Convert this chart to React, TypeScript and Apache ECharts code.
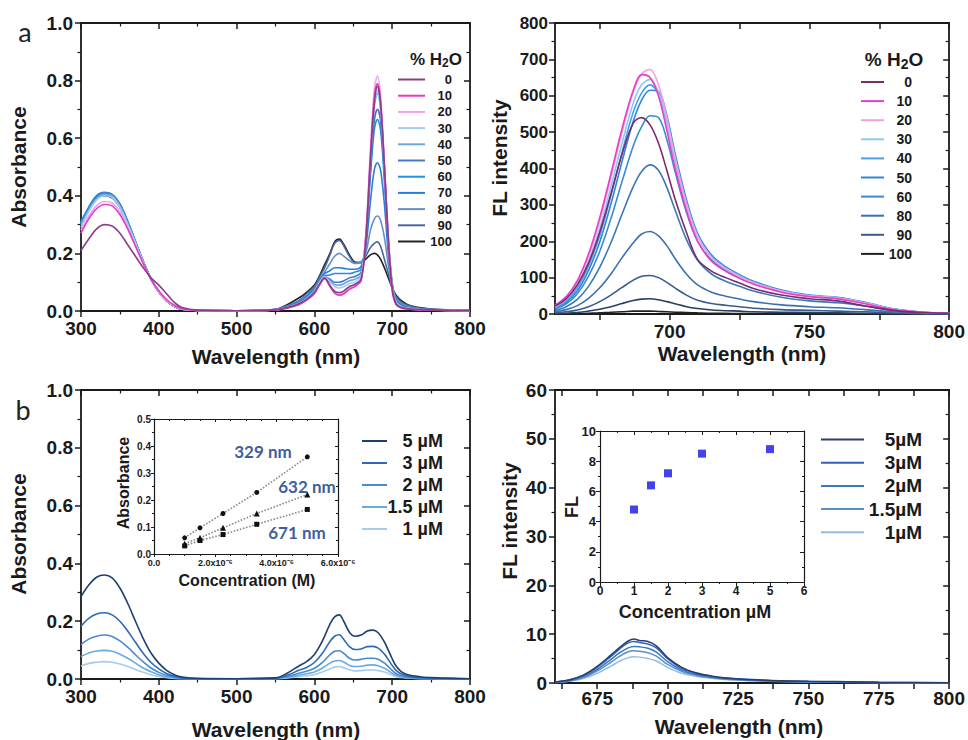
import React, { useEffect, useRef } from "react";
import * as echarts from "echarts";

// ---------- Panel a (left): absorbance vs water fraction ----------
const WL_A = [300,310,320,330,340,350,360,370,380,390,400,410,420,430,450,500,550,565,580,590,600,607,613,620,626,632,638,645,652,660,666,672,677,681,685,690,695,700,705,712,720,735,750,775,800];
const WATER_A = ["0","10","20","30","40","50","60","70","80","90","100"];
const COLORS_A = ["#8a3f86","#e23cc6","#f2a2e6","#9fd0f2","#68a6e2","#4a78c0","#1f8fe8","#2a7fd8","#6a8fc8","#4a66a0","#222222"];
const ABS_A: number[][] = [
  [0.21,0.25,0.285,0.30,0.295,0.27,0.23,0.19,0.15,0.115,0.09,0.06,0.03,0.012,0.003,0.001,0.004,0.012,0.025,0.04,0.065,0.095,0.115,0.088,0.068,0.064,0.07,0.085,0.092,0.11,0.24,0.52,0.72,0.78,0.72,0.5,0.25,0.08,0.025,0.012,0.008,0.005,0.004,0.002,0.001],
  [0.27,0.32,0.355,0.37,0.365,0.335,0.285,0.225,0.165,0.11,0.07,0.04,0.02,0.008,0.002,0.001,0.004,0.01,0.022,0.038,0.06,0.092,0.112,0.085,0.062,0.055,0.06,0.075,0.085,0.105,0.25,0.54,0.74,0.79,0.73,0.5,0.24,0.07,0.022,0.01,0.007,0.004,0.003,0.002,0.001],
  [0.28,0.33,0.365,0.38,0.375,0.345,0.29,0.23,0.165,0.11,0.068,0.038,0.018,0.007,0.002,0.001,0.004,0.011,0.023,0.04,0.062,0.094,0.115,0.09,0.068,0.062,0.066,0.08,0.09,0.11,0.26,0.56,0.77,0.815,0.75,0.51,0.25,0.075,0.024,0.01,0.007,0.004,0.003,0.002,0.001],
  [0.29,0.345,0.385,0.40,0.395,0.36,0.30,0.235,0.17,0.11,0.066,0.036,0.017,0.007,0.002,0.001,0.004,0.012,0.025,0.042,0.068,0.1,0.12,0.1,0.085,0.08,0.085,0.095,0.1,0.12,0.26,0.53,0.72,0.765,0.71,0.5,0.26,0.085,0.03,0.014,0.009,0.005,0.004,0.002,0.001],
  [0.30,0.35,0.39,0.405,0.40,0.365,0.305,0.24,0.17,0.11,0.066,0.035,0.016,0.006,0.002,0.001,0.004,0.013,0.027,0.044,0.07,0.102,0.12,0.105,0.092,0.09,0.095,0.105,0.11,0.125,0.26,0.52,0.71,0.755,0.7,0.5,0.26,0.09,0.032,0.015,0.01,0.006,0.004,0.002,0.001],
  [0.30,0.355,0.395,0.41,0.403,0.37,0.31,0.24,0.172,0.112,0.067,0.035,0.016,0.006,0.002,0.001,0.004,0.014,0.028,0.046,0.072,0.104,0.12,0.11,0.1,0.1,0.105,0.115,0.12,0.135,0.25,0.49,0.66,0.70,0.66,0.47,0.25,0.095,0.035,0.016,0.011,0.007,0.004,0.002,0.001],
  [0.305,0.36,0.40,0.412,0.405,0.372,0.312,0.242,0.173,0.113,0.068,0.036,0.016,0.006,0.002,0.001,0.004,0.015,0.03,0.048,0.075,0.106,0.122,0.125,0.13,0.13,0.13,0.13,0.135,0.145,0.25,0.47,0.63,0.665,0.63,0.45,0.24,0.095,0.036,0.017,0.011,0.007,0.004,0.002,0.001],
  [0.31,0.36,0.40,0.41,0.403,0.37,0.31,0.24,0.172,0.112,0.067,0.035,0.016,0.006,0.002,0.001,0.004,0.016,0.032,0.05,0.078,0.108,0.13,0.14,0.15,0.15,0.148,0.145,0.145,0.155,0.22,0.38,0.49,0.515,0.49,0.37,0.2,0.09,0.04,0.02,0.013,0.007,0.004,0.002,0.001],
  [0.31,0.36,0.398,0.408,0.40,0.368,0.308,0.24,0.172,0.112,0.067,0.035,0.016,0.006,0.002,0.001,0.005,0.017,0.034,0.055,0.08,0.11,0.135,0.165,0.19,0.2,0.19,0.175,0.165,0.17,0.2,0.28,0.32,0.33,0.315,0.255,0.16,0.085,0.045,0.025,0.015,0.008,0.005,0.003,0.002],
  [0.305,0.355,0.392,0.402,0.395,0.362,0.305,0.238,0.17,0.11,0.066,0.035,0.016,0.006,0.002,0.001,0.005,0.018,0.036,0.06,0.085,0.12,0.15,0.195,0.235,0.245,0.225,0.19,0.168,0.17,0.19,0.22,0.235,0.24,0.225,0.18,0.13,0.08,0.05,0.03,0.02,0.01,0.006,0.003,0.002],
  [0.30,0.35,0.39,0.40,0.393,0.36,0.303,0.236,0.17,0.11,0.066,0.035,0.016,0.006,0.002,0.001,0.006,0.022,0.045,0.065,0.09,0.125,0.16,0.2,0.24,0.25,0.23,0.195,0.17,0.168,0.18,0.195,0.2,0.195,0.18,0.15,0.115,0.08,0.055,0.035,0.022,0.012,0.007,0.004,0.002],
];

// ---------- Panel a (right): fluorescence vs water fraction ----------
const WL_F = [659,663,667,671,675,679,683,687,690,693,696,699,702,706,710,715,720,725,730,740,750,760,770,780,790,800];
const WATER_F = ["0","10","20","30","40","50","60","70","80","90","95","100"];
const LEGEND_F = ["0","10","20","30","40","50","60","80","90","100"];
const COLORS_F = ["#7b2a6e","#e83ec8","#f0a0e6","#8cc8f0","#4aa0e6","#2e86d8","#3a8ad6","#3a78b8","#3a70b0","#3a5a90","#2a4060","#222222"];
const FL_A: number[][] = [
  [22,42,80,140,225,330,440,525,540,520,470,395,315,225,150,118,100,85,70,52,42,36,22,10,4,2],
  [24,48,92,165,265,385,510,615,658,650,600,505,400,285,200,145,118,98,82,60,48,42,28,12,5,2],
  [22,45,88,158,255,375,500,610,660,672,630,540,430,305,215,155,125,103,86,63,50,44,30,13,5,2],
  [20,40,80,145,235,350,470,580,630,645,610,525,420,300,212,155,125,104,86,63,50,44,30,13,5,2],
  [18,36,72,132,215,325,445,555,608,630,605,525,422,302,215,158,128,106,88,64,50,45,31,14,5,2],
  [16,32,64,120,198,302,420,530,588,615,612,545,440,315,222,162,130,108,90,66,52,46,32,14,5,2],
  [14,28,56,104,172,262,365,462,515,545,540,480,390,280,200,148,120,100,84,62,48,42,30,13,5,2],
  [10,20,40,76,128,196,275,350,392,410,395,348,285,205,148,110,90,76,63,46,36,31,22,10,4,1],
  [6,12,23,43,72,110,155,196,220,227,215,188,152,110,80,60,49,41,34,25,20,17,12,6,2,1],
  [3,6,11,20,34,52,73,93,104,106,100,87,71,52,38,29,24,20,16,12,10,8,6,3,1,0],
  [1,2,4,8,13,20,29,37,41,42,39,34,28,20,15,11,9,8,6,5,4,3,2,1,0,0],
  [0,1,1,2,3,5,6,8,8,8,7,6,5,4,3,2,2,1,1,1,1,0,0,0,0,0],
];

// ---------- Panel b (left): absorbance vs concentration ----------
const WL_B = [300,310,320,330,340,350,360,370,380,390,400,410,420,430,450,500,550,565,580,590,600,610,620,626,632,638,645,652,660,668,675,682,690,695,700,705,712,720,735,750,775,800];
const CONC_B = ["5 µM","3 µM","2 µM","1.5 µM","1 µM"];
const COLORS_B = ["#1f3f70","#2a6ab8","#4a8ad0","#6aaae0","#a6cbec"];
const ABS_B: number[][] = [
  [0.285,0.325,0.352,0.36,0.35,0.315,0.262,0.2,0.14,0.09,0.055,0.03,0.015,0.007,0.002,0.001,0.004,0.02,0.045,0.06,0.085,0.13,0.19,0.215,0.222,0.198,0.162,0.148,0.152,0.166,0.169,0.16,0.128,0.1,0.07,0.045,0.025,0.015,0.008,0.005,0.002,0.001],
  [0.183,0.21,0.225,0.229,0.222,0.2,0.166,0.127,0.089,0.057,0.035,0.019,0.01,0.004,0.001,0.001,0.003,0.013,0.03,0.04,0.057,0.088,0.13,0.148,0.153,0.136,0.112,0.102,0.104,0.112,0.113,0.107,0.086,0.067,0.047,0.03,0.017,0.01,0.005,0.003,0.002,0.001],
  [0.119,0.138,0.148,0.152,0.147,0.132,0.11,0.084,0.059,0.038,0.023,0.013,0.006,0.003,0.001,0.001,0.002,0.009,0.02,0.027,0.037,0.057,0.084,0.096,0.098,0.088,0.072,0.066,0.068,0.072,0.072,0.068,0.055,0.043,0.03,0.019,0.011,0.006,0.003,0.002,0.001,0.001],
  [0.078,0.09,0.097,0.099,0.096,0.086,0.072,0.055,0.038,0.025,0.015,0.008,0.004,0.002,0.001,0,0.002,0.006,0.013,0.018,0.024,0.037,0.055,0.062,0.064,0.058,0.047,0.043,0.044,0.048,0.049,0.046,0.037,0.029,0.02,0.013,0.007,0.004,0.002,0.001,0.001,0],
  [0.045,0.054,0.058,0.06,0.058,0.052,0.043,0.033,0.023,0.015,0.009,0.005,0.002,0.001,0,0,0.001,0.004,0.008,0.011,0.015,0.024,0.035,0.041,0.043,0.039,0.032,0.028,0.029,0.031,0.031,0.029,0.024,0.019,0.013,0.008,0.005,0.003,0.001,0.001,0,0],
];

// ---------- Panel b (right): fluorescence vs concentration ----------
const WL_C = [660,665,670,675,680,683,686,688,690,693,696,700,705,710,715,720,730,740,750,760,775,800];
const CONC_C = ["5µM","3µM","2µM","1.5µM","1µM"];
const COLORS_C = ["#2a3f6a","#3060c8","#3a78c0","#5a90c8","#94bce2"];
const FL_B: number[][] = [
  [0.2,0.6,1.6,3.4,5.8,7.3,8.6,9.0,8.7,8.5,7.6,5.2,3.2,2.1,1.5,1.1,0.7,0.45,0.35,0.3,0.15,0.05],
  [0.2,0.6,1.5,3.2,5.5,7.0,8.2,8.5,8.3,8.0,7.2,5.0,3.0,2.0,1.4,1.0,0.65,0.4,0.3,0.25,0.12,0.05],
  [0.15,0.5,1.3,2.8,4.9,6.2,7.2,7.5,7.4,7.1,6.3,4.4,2.7,1.8,1.3,0.9,0.6,0.4,0.3,0.22,0.1,0.04],
  [0.1,0.4,1.1,2.5,4.3,5.5,6.4,6.6,6.5,6.2,5.5,3.8,2.4,1.6,1.1,0.8,0.5,0.35,0.25,0.2,0.1,0.03],
  [0.1,0.35,0.9,2.0,3.5,4.5,5.2,5.4,5.3,5.0,4.5,3.2,2.0,1.4,1.0,0.7,0.45,0.3,0.2,0.15,0.08,0.03],
];

// ---------- Insets ----------
const INSET_CONC_M = [1.0e-6, 1.5e-6, 2.25e-6, 3.35e-6, 5.0e-6];
const INSET_ABS_329 = [0.06, 0.097, 0.15, 0.228, 0.36];
const INSET_ABS_632 = [0.038, 0.06, 0.097, 0.15, 0.22];
const INSET_ABS_671 = [0.03, 0.05, 0.072, 0.11, 0.165];
const INSET_CONC_UM = [1, 1.5, 2, 3, 5];
const INSET_FL = [4.8, 6.4, 7.2, 8.5, 8.8];

const FONT = "'Liberation Sans', Arial, Helvetica, sans-serif";
const INK = "#1a1a1a";

function buildOption() {
  const xAxes: any[] = [];
  const yAxes: any[] = [];
  const series: any[] = [];

  const line = (w: number) => ({ show: true, onZero: false, lineStyle: { color: INK, width: w } });

  function addAxes(grid: number, xc: any, yc: any) {
    const mk = (c: any, pos: string, mirror: boolean) => {
      const ax: any = {
        type: "value", gridIndex: grid, min: c.min, max: c.max, position: pos,
        splitLine: { show: false },
        axisLine: line(c.lw ?? 1.8),
        axisTick: { show: true, inside: mirror, length: c.tl ?? 6, lineStyle: { color: INK, width: c.tw ?? 1.5 } },
        minorTick: { show: c.minor !== undefined, splitNumber: c.minor ?? 2, length: c.ml ?? 3.5, lineStyle: { color: INK, width: c.tw ?? 1.2 } },
        axisLabel: { show: !mirror, fontSize: c.fs, fontWeight: "bold", color: INK, fontFamily: FONT, margin: c.margin ?? 8, formatter: c.fmt },
      };
      if (c.interval !== undefined) ax.interval = c.interval;
      if (c.tickVals) { ax.axisTick.customValues = c.tickVals; ax.minorTick.show = false; }
      if (c.labelVals) ax.axisLabel.customValues = c.labelVals;
      return ax;
    };
    const xi = xAxes.length;
    xAxes.push(mk(xc, "bottom", false));
    xAxes.push(mk(xc, "top", true));
    const yi = yAxes.length;
    yAxes.push(mk(yc, "left", false));
    yAxes.push(mk(yc, "right", true));
    return { xi, yi };
  }

  const grids = [
    { left: 81, top: 23, width: 389, height: 288 },
    { left: 555, top: 23, width: 396, height: 291 },
    { left: 81, top: 390, width: 389, height: 289 },
    { left: 555, top: 390, width: 397, height: 293 },
    { left: 154, top: 419, width: 184, height: 135, show: true, backgroundColor: "#fff", borderWidth: 0 },
    { left: 600, top: 431, width: 204, height: 151, show: true, backgroundColor: "#fff", borderWidth: 0 },
  ];

  const g0 = addAxes(0, { min: 300, max: 800, interval: 100, minor: 2, fs: 19 }, { min: 0, max: 1, interval: 0.2, minor: 2, fs: 19, fmt: (v: number) => v.toFixed(1) });
  const g1 = addAxes(1, { min: 659, max: 800, fs: 19, tickVals: [675, 700, 725, 750, 775, 800], labelVals: [700, 750, 800] }, { min: 0, max: 800, interval: 100, minor: 2, fs: 17, margin: 7 });
  const g2 = addAxes(2, { min: 300, max: 800, interval: 100, minor: 2, fs: 19 }, { min: 0, max: 1, interval: 0.2, minor: 2, fs: 19, fmt: (v: number) => v.toFixed(1) });
  const g3 = addAxes(3, { min: 660, max: 800, fs: 19, tl: 6, margin: 6, tickVals: [662.5, 675, 687.5, 700, 712.5, 725, 737.5, 750, 762.5, 775, 787.5, 800], labelVals: [675, 700, 725, 750, 775, 800] }, { min: 0, max: 60, interval: 10, minor: 2, fs: 19 });
  const g4 = addAxes(4,
    { min: 0, max: 6e-6, interval: 2e-6, minor: 4, fs: 9, lw: 1.2, tl: 3, ml: 2, tw: 1, margin: 4, fmt: (v: number) => (v === 0 ? "0.0" : (v * 1e6).toFixed(1) + "x10⁻⁶") },
    { min: 0, max: 0.5, interval: 0.1, minor: 2, fs: 10, lw: 1.2, tl: 3, ml: 2, tw: 1, margin: 3, fmt: (v: number) => v.toFixed(1) });
  const g5 = addAxes(5,
    { min: 0, max: 6, interval: 1, minor: 2, fs: 12, lw: 1.2, tl: 4, ml: 2, tw: 1, margin: 3 },
    { min: 0, max: 10, interval: 2, minor: 2, fs: 13, lw: 1.2, tl: 4, ml: 2, tw: 1, margin: 4 });

  const addLines = (prefix: string, g: any, xs: number[], names: string[], data: number[][], colors: string[], width: number) => {
    names.forEach((n, i) => {
      series.push({
        type: "line", name: prefix + "|" + n, xAxisIndex: g.xi, yAxisIndex: g.yi,
        data: xs.map((x, k) => [x, data[i][k]]),
        smooth: 0.35, symbol: "none", showSymbol: false, clip: true,
        lineStyle: { color: colors[i], width }, itemStyle: { color: colors[i] },
        z: 2 + (names.length - i) * 0.01,
      });
    });
  };
  addLines("a1", g0, WL_A, WATER_A, ABS_A, COLORS_A, 1.6);
  addLines("a2", g1, WL_F, WATER_F, FL_A, COLORS_F, 1.6);
  addLines("b1", g2, WL_B, CONC_B, ABS_B, COLORS_B, 1.6);
  addLines("b2", g3, WL_C, CONC_C, FL_B, COLORS_C, 1.5);

  const fitLines: [number[], string, number][] = [[INSET_ABS_329, "circle", 5], [INSET_ABS_632, "triangle", 6], [INSET_ABS_671, "rect", 5]];
  fitLines.forEach(([ys, sym, sz], i) => {
    series.push({
      type: "line", name: "inset" + i, xAxisIndex: g4.xi, yAxisIndex: g4.yi,
      data: INSET_CONC_M.map((x, k) => [x, ys[k]]),
      symbol: sym, symbolSize: sz, showSymbol: true,
      lineStyle: { type: "dotted", color: "#8a8a8a", width: 1.6 },
      itemStyle: { color: "#111" }, z: 5,
    });
  });
  series.push({
    type: "scatter", name: "insetFL", xAxisIndex: g5.xi, yAxisIndex: g5.yi,
    data: INSET_CONC_UM.map((x, k) => [x, INSET_FL[k]]),
    symbol: "rect", symbolSize: 8, itemStyle: { color: "#1414e6" }, z: 5,
  });

  const fmt = (name: string) => `{r|${name.split("|")[1]}}`;
  const mkLegend = (names: string[], left: number, top: number, iw: number, gap: number, fs: number, tw: number, lh: number) => ({
    data: names, orient: "vertical", left, top, itemWidth: iw, itemHeight: 2, itemGap: gap, padding: 0,
    icon: "rect", selectedMode: false, formatter: fmt,
    textStyle: { rich: { r: { width: tw, align: "right", fontSize: fs, fontWeight: "bold", color: INK, fontFamily: FONT, lineHeight: lh } } },
  });
  const legend = [
    mkLegend(WATER_A.map((n) => "a1|" + n), 398, 73, 27, 3.2, 13, 22, 14),
    mkLegend(LEGEND_F.map((n) => "a2|" + n), 861, 75, 23, 5.1, 14, 23, 14),
    mkLegend(CONC_B.map((n) => "b1|" + n), 362, 432, 25, 4, 18, 51, 20),
    mkLegend(CONC_C.map((n) => "b2|" + n), 821, 430, 43, 4.2, 19, 53, 20),
  ];

  const txt = (text: string, x: number, y: number, size: number, opts: any = {}) => ({
    type: "text", x, y, rotation: opts.rot ?? 0, z: 10,
    style: {
      text, fontSize: size, fontWeight: opts.weight ?? "bold", fontFamily: opts.family ?? FONT,
      fill: opts.color ?? INK, align: "center", verticalAlign: "middle", rich: opts.rich,
    },
  });
  const R = Math.PI / 2;
  const subRich = (fs: number) => ({ s: { fontSize: fs, fontWeight: "bold", fontFamily: FONT, fill: INK, padding: [Math.round(fs * 0.7), 0, 0, 0] } });
  const graphic = [
    txt("a", 25, 31, 27, { weight: "normal", family: "Lato, 'Open Sans', sans-serif", color: "#222" }),
    txt("b", 23, 409, 27, { weight: "normal", family: "Lato, 'Open Sans', sans-serif", color: "#222" }),
    txt("Wavelength (nm)", 276, 356, 21),
    txt("Wavelength (nm)", 742, 353, 21),
    txt("Wavelength (nm)", 276, 729, 21),
    txt("Wavelength (nm)", 739, 726, 21),
    txt("Absorbance", 18, 167, 21, { rot: R }),
    txt("FL intensity", 499, 158, 21, { rot: R }),
    txt("Absorbance", 18, 534, 21, { rot: R }),
    txt("FL intensity", 509, 521, 21, { rot: R }),
    txt("% H{s|2}O", 436, 59, 17, { rich: subRich(12) }),
    txt("% H{s|2}O", 894, 59, 19, { rich: subRich(14) }),
    txt("Absorbance", 123, 483, 16, { rot: R }),
    txt("Concentration (M)", 247, 580, 16),
    txt("FL", 572, 507, 18, { rot: R }),
    txt("Concentration µM", 695, 612, 18),
    txt("329 nm", 263, 451, 17, { family: "Lato, 'Open Sans', sans-serif", color: "#3d5f9e" }),
    txt("632 nm", 307, 486, 17, { family: "Lato, 'Open Sans', sans-serif", color: "#3d5f9e" }),
    txt("671 nm", 297, 532, 17, { family: "Lato, 'Open Sans', sans-serif", color: "#3d5f9e" }),
  ];

  return {
    animation: false,
    backgroundColor: "#fff",
    textStyle: { fontFamily: FONT },
    grid: grids,
    xAxis: xAxes,
    yAxis: yAxes,
    legend,
    series,
    graphic,
  };
}

export default function App() {
  const ref = useRef<HTMLDivElement>(null);
  useEffect(() => {
    document.body.style.margin = "0";
    const chart = echarts.init(ref.current!, undefined, { renderer: "svg" });
    chart.setOption(buildOption() as any);
    return () => chart.dispose();
  }, []);
  return <div ref={ref} style={{ width: 968, height: 740 }} />;
}
